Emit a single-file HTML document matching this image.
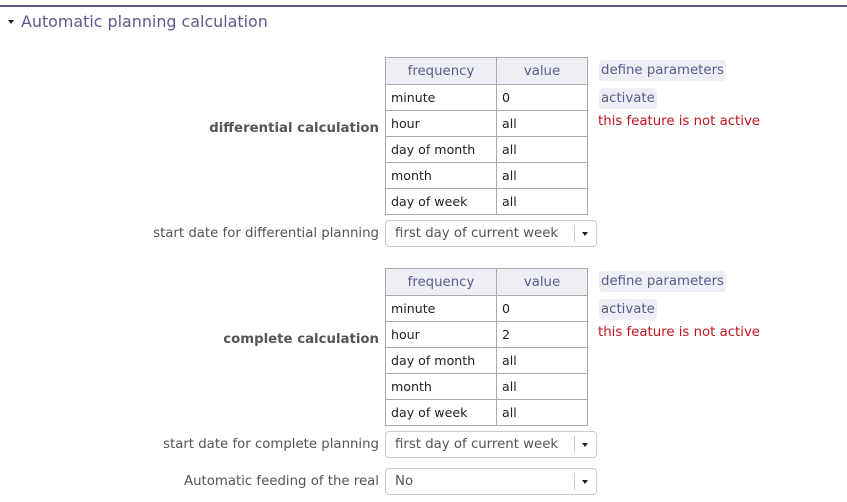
<!DOCTYPE html>
<html><head><meta charset="utf-8"><style>
body{margin:0;width:847px;height:502px;background:#fff;position:relative;overflow:hidden;font-family:"DejaVu Sans","Liberation Sans",sans-serif;font-size:13.3px;color:#555}
.a{position:absolute;white-space:nowrap}
.hr{left:0;top:5px;width:847px;height:2px;background:#5c5a8c}
.title{left:21px;top:12px;font-size:15.9px;color:#5c5a8c}
.tri{left:8px;top:20px;width:0;height:0;border-left:3.5px solid transparent;border-right:3.5px solid transparent;border-top:4px solid #222}
table{position:absolute;left:385px;border-collapse:collapse;font-size:12.6px;color:#222}
td,th{border:1px solid #aaa;height:25px;padding:0 0 0 5px;text-align:left;font-weight:normal}
th{background:#eeeef5;color:#5c5a8c;text-align:center;padding:0;height:26px;font-size:13.3px}
.c1{width:110px}.c2{width:90px}
.btn{background:#eeeef5;color:#5c5a8c;border-radius:4px;padding:3px 2px;font-size:13.3px}
.red{color:#c0141e;font-size:13.3px}
.lab{right:468px;text-align:right}
.bold{font-weight:bold;color:#555}
.sel{left:385px;width:210px;height:25px;border:1px solid #ccc;border-radius:4px}
.sel span{position:absolute;left:9px;top:5px;color:#555}
.sel i{position:absolute;left:188px;top:4px;width:1px;height:17px;background:#ccc}
.sel b{position:absolute;left:196px;top:11px;border-left:3.5px solid transparent;border-right:3.5px solid transparent;border-top:4px solid #222}
</style></head><body>
<div class="a hr"></div>
<div class="a tri"></div>
<div class="a title">Automatic planning calculation</div>

<table style="top:57px"><tr><th class="c1">frequency</th><th class="c2">value</th></tr>
<tr><td>minute</td><td>0</td></tr><tr><td>hour</td><td>all</td></tr><tr><td>day of month</td><td>all</td></tr><tr><td>month</td><td>all</td></tr><tr><td>day of week</td><td>all</td></tr></table>
<div class="a btn" style="left:599px;top:60px">define parameters</div>
<div class="a btn" style="left:599px;top:88px">activate</div>
<div class="a red" style="left:598px;top:114px">this feature is not active</div>
<div class="a lab bold" style="top:121px">differential calculation</div>
<div class="a lab" style="top:226px">start date for differential planning</div>
<div class="a sel" style="top:220px"><span>first day of current week</span><i></i><b></b></div>

<table style="top:268px"><tr><th class="c1">frequency</th><th class="c2">value</th></tr>
<tr><td>minute</td><td>0</td></tr><tr><td>hour</td><td>2</td></tr><tr><td>day of month</td><td>all</td></tr><tr><td>month</td><td>all</td></tr><tr><td>day of week</td><td>all</td></tr></table>
<div class="a btn" style="left:599px;top:271px">define parameters</div>
<div class="a btn" style="left:599px;top:299px">activate</div>
<div class="a red" style="left:598px;top:325px">this feature is not active</div>
<div class="a lab bold" style="top:332px">complete calculation</div>
<div class="a lab" style="top:437px">start date for complete planning</div>
<div class="a sel" style="top:431px"><span>first day of current week</span><i></i><b></b></div>
<div class="a lab" style="top:474px">Automatic feeding of the real</div>
<div class="a sel" style="top:468px"><span>No</span><i></i><b></b></div>
</body></html>
